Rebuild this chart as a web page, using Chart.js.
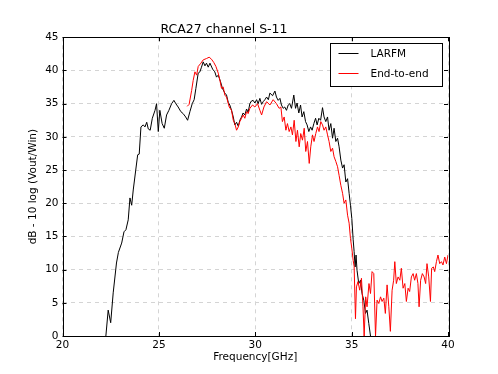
<!DOCTYPE html>
<html>
<head>
<meta charset="utf-8">
<script src="https://cdn.jsdelivr.net/npm/chart.js@4/dist/chart.umd.min.js"></script>
<style>
  html, body { margin: 0; padding: 0; background: #fff; }
</style>
</head>
<body>
<canvas id="chart" width="498" height="374"></canvas>
<script>
const larfmFreq = [22.25, 22.37, 22.5, 22.63, 22.8, 22.9, 23.07, 23.19, 23.29, 23.41, 23.5, 23.59, 23.67, 23.8, 23.9, 23.98,
  24.07, 24.19, 24.28, 24.37, 24.45, 24.55, 24.66, 24.8, 24.88, 24.97, 25.05, 25.17, 25.28, 25.4, 25.52, 25.66, 25.78, 25.88,
  26.0, 26.14, 26.26, 26.39, 26.49, 26.61, 26.73, 26.83, 26.92, 27.04, 27.13, 27.21, 27.3, 27.39, 27.47, 27.56, 27.65, 27.79,
  27.9, 27.99, 28.08, 28.2, 28.3, 28.42, 28.51, 28.6, 28.68, 28.77, 28.86, 28.94, 29.03, 29.12, 29.2, 29.29, 29.37, 29.46,
  29.55, 29.63, 29.72, 29.8, 29.89, 29.98, 30.07, 30.15, 30.24, 30.33, 30.41, 30.5, 30.59, 30.68, 30.76, 30.9, 31.02, 31.1,
  31.19, 31.28, 31.36, 31.45, 31.53, 31.62, 31.71, 31.79, 31.88, 32.0, 32.09, 32.17, 32.26, 32.35, 32.43, 32.52, 32.61, 32.69,
  32.78, 32.87, 32.95, 33.04, 33.13, 33.21, 33.3, 33.39, 33.49, 33.57, 33.66, 33.75, 33.83, 33.92, 34.01, 34.09, 34.18, 34.27,
  34.35, 34.44, 34.53, 34.61, 34.7, 34.79, 34.87, 34.94, 35.01, 35.08, 35.13, 35.18, 35.23, 35.28, 35.37, 35.46, 35.54, 35.63,
  35.72, 35.8, 35.89, 35.98];
const larfmDb = [0, 3.9, 2.0, 6.5, 11.0, 12.6, 14.0, 15.7, 16.0, 17.5, 20.8, 19.7, 22.0, 25.0, 27.3, 27.4,
  31.5, 31.8, 31.5, 32.2, 31.2, 31.0, 32.8, 34.0, 35.0, 30.8, 34.0, 32.0, 31.3, 33.3, 34.0, 35.0, 35.5, 35.0,
  34.5, 33.8, 33.5, 33.0, 32.5, 33.8, 35.0, 35.6, 37.3, 39.6, 39.8, 40.5, 41.3, 40.7, 41.1, 40.5, 41.1, 40.2,
  39.8, 39.0, 39.3, 38.3, 37.3, 36.6, 36.3, 35.2, 34.8, 34.0, 33.0, 31.8, 32.2, 31.6, 32.5, 33.0, 33.6, 33.3,
  34.2, 33.7, 35.0, 35.4, 35.5, 35.1, 35.6, 35.0, 35.8, 34.9, 35.3, 35.6, 36.0, 35.6, 36.6, 36.2, 36.9, 36.0,
  35.5, 35.8, 34.8, 34.3, 34.5, 34.0, 34.8, 35.0, 34.3, 36.3, 34.3, 35.1, 33.6, 34.8, 33.0, 33.8, 32.3, 31.8,
  30.8, 31.5, 31.0, 32.0, 32.8, 31.8, 32.8, 32.5, 34.4, 33.0, 32.3, 33.0, 31.0, 32.0, 29.8, 31.3, 29.3, 29.8,
  28.5, 26.5, 25.3, 25.8, 23.2, 23.7, 21.5, 19.7, 17.7, 14.5, 12.7, 10.4, 12.2, 9.9, 7.9, 8.4, 6.4, 5.4,
  3.4, 3.9, 1.9, 0];

const e2eFreq = [26.47, 26.57, 26.7, 26.78, 26.87, 26.96, 27.04, 27.18, 27.3, 27.47, 27.61, 27.73, 27.85, 27.96, 28.08,
  28.16, 28.25, 28.34, 28.42, 28.51, 28.65, 28.77, 28.86, 28.94, 29.03, 29.12, 29.2, 29.29, 29.37, 29.46, 29.55, 29.63,
  29.72, 29.86, 29.98, 30.12, 30.24, 30.33, 30.45, 30.59, 30.76, 30.93, 31.1, 31.24, 31.33, 31.41, 31.5, 31.59, 31.67,
  31.76, 31.85, 31.93, 32.02, 32.11, 32.19, 32.28, 32.36, 32.45, 32.54, 32.62, 32.71, 32.8, 32.88, 32.97, 33.05, 33.14,
  33.23, 33.31, 33.4, 33.49, 33.57, 33.66, 33.75, 33.83, 33.92, 34.01, 34.09, 34.18, 34.27, 34.35, 34.44, 34.53, 34.61,
  34.7, 34.79, 34.87, 34.94, 35.01, 35.08, 35.13, 35.2, 35.25, 35.33, 35.42, 35.51, 35.59, 35.65, 35.73, 35.8, 35.9,
  35.98, 36.06, 36.15, 36.24, 36.32, 36.41, 36.5, 36.58, 36.67, 36.75, 36.84, 36.93, 37.01, 37.1, 37.18, 37.24, 37.32,
  37.41, 37.5, 37.58, 37.67, 37.76, 37.84, 37.93, 38.01, 38.1, 38.19, 38.27, 38.36, 38.44, 38.5, 38.58, 38.67, 38.76,
  38.84, 38.91, 39.0, 39.09, 39.15, 39.24, 39.31, 39.4, 39.48, 39.57, 39.66, 39.74, 39.83, 39.92, 40.0];
const e2eDb = [34.6, 34.9, 37.0, 38.5, 39.8, 39.3, 40.6, 41.1, 41.6, 41.8, 42.0, 41.7, 41.2, 40.6, 39.6,
  38.6, 37.3, 37.5, 36.3, 36.0, 34.5, 34.0, 32.5, 32.0, 31.0, 31.5, 32.3, 32.8, 33.3, 32.8, 33.8, 33.5,
  34.3, 34.8, 34.5, 35.0, 34.0, 33.3, 34.5, 35.3, 34.8, 35.6, 35.0, 34.3, 34.5, 32.3, 33.0, 31.0, 32.0,
  30.8, 31.5, 30.3, 32.5, 29.3, 31.0, 28.5, 30.5, 29.5, 31.3, 27.8, 29.3, 26.0, 28.5, 30.3, 29.3, 30.5,
  31.5, 30.8, 32.3, 31.8, 31.0, 31.5, 30.3, 29.3, 27.8, 28.3, 27.0, 26.3, 25.5, 24.2, 22.7, 21.5, 20.0,
  20.5, 18.2, 17.0, 14.7, 13.2, 11.4, 10.5, 2.6, 7.4, 8.2, 6.9, 8.7, 4.4, 0, 5.9, 4.4, 7.9,
  6.4, 9.7, 9.4, 0, 5.4, 4.9, 5.9, 5.2, 5.7, 3.4, 7.7, 4.4, 0.7, 6.9, 8.4, 11.2, 7.9,
  8.9, 8.4, 10.2, 7.2, 7.9, 5.2, 7.2, 6.7, 8.9, 9.4, 8.4, 9.4, 7.9, 4.4, 8.4, 9.4, 8.9,
  7.9, 10.9, 8.9, 5.2, 10.2, 10.4, 9.7, 11.2, 12.2, 10.9, 11.2, 10.7, 11.9, 10.9, 12.2];

const seriesLabels = ["LARFM", "End-to-end"];
const seriesColors = ["#000000", "#ff0000"];
const xTicks = [20, 25, 30, 35, 40];
const yTicks = [0, 5, 10, 15, 20, 25, 30, 35, 40, 45];

const toPoints = (xs, ys) => xs.map((x, i) => ({ x: x, y: ys[i] }));

const FONT = "'DejaVu Sans', sans-serif";

// matplotlib look: full black frame, inward ticks on all sides, boxed legend
const mplFrame = {
  id: "mplFrame",
  afterDraw(chart) {
    const { ctx, chartArea: a, scales } = chart;
    ctx.save();
    ctx.strokeStyle = "#000";
    ctx.lineWidth = 1;
    const seg = (x1, y1, x2, y2) => {
      ctx.beginPath();
      ctx.moveTo(x1, y1);
      ctx.lineTo(x2, y2);
      ctx.stroke();
    };
    xTicks.forEach((v) => {
      const px = Math.round(scales.x.getPixelForValue(v)) + 0.5;
      seg(px, a.bottom, px, a.bottom - 4);
      seg(px, a.top, px, a.top + 4);
    });
    yTicks.forEach((v) => {
      const py = Math.round(scales.y.getPixelForValue(v)) + 0.5;
      seg(a.left, py, a.left + 4, py);
      seg(a.right, py, a.right - 4, py);
    });
    ctx.strokeRect(Math.round(a.left) + 0.5, Math.round(a.top) + 0.5,
      Math.round(a.right - a.left), Math.round(a.bottom - a.top));

    // legend box
    const bw = 112, bh = 43;
    const bx = Math.round(a.right - 6 - bw) + 0.5;
    const by = Math.round(a.top + 6) + 0.5;
    ctx.fillStyle = "#fff";
    ctx.fillRect(bx, by, bw, bh);
    ctx.strokeRect(bx, by, bw, bh);
    ctx.font = "10.5px " + FONT;
    ctx.textBaseline = "middle";
    seriesLabels.forEach((label, i) => {
      const ly = by + 10 + i * 20;
      ctx.strokeStyle = seriesColors[i];
      seg(bx + 8, ly, bx + 28, ly);
      ctx.fillStyle = "#000";
      ctx.fillText(label, bx + 40, ly + 0.5);
    });
    ctx.restore();
  },
};

new Chart(document.getElementById("chart"), {
  type: "line",
  data: {
    datasets: [
      {
        label: seriesLabels[0],
        data: toPoints(larfmFreq, larfmDb),
        borderColor: seriesColors[0],
        borderWidth: 1,
        pointRadius: 0,
        fill: false,
        tension: 0,
        order: 1,
      },
      {
        label: seriesLabels[1],
        data: toPoints(e2eFreq, e2eDb),
        borderColor: seriesColors[1],
        borderWidth: 1,
        pointRadius: 0,
        fill: false,
        tension: 0,
        order: 0,
      },
    ],
  },
  options: {
    responsive: false,
    animation: false,
    layout: { padding: { left: 0, right: 50, top: 0, bottom: 0 } },
    plugins: {
      legend: { display: false },
      tooltip: { enabled: false },
      title: {
        display: true,
        text: "RCA27 channel S-11",
        color: "#000",
        font: { family: FONT, size: 12.5, weight: "normal" },
        padding: { top: 22.3, bottom: 0 },
      },
    },
    scales: {
      x: {
        type: "linear",
        min: 20,
        max: 40,
        afterBuildTicks: (s) => { s.ticks = xTicks.map((v) => ({ value: v })); },
        afterFit: (s) => { s.height = 38; },
        ticks: { color: "#000", padding: 3, font: { family: FONT, size: 10.5 } },
        grid: { color: "#d4d4d4", drawTicks: false },
        border: { display: false, dash: [4, 4] },
        title: {
          display: true,
          text: "Frequency[GHz]",
          color: "#000",
          font: { family: FONT, size: 10.5 },
          padding: { top: 0, bottom: 10 },
        },
      },
      y: {
        type: "linear",
        min: 0,
        max: 45,
        afterBuildTicks: (s) => { s.ticks = yTicks.map((v) => ({ value: v })); },
        afterFit: (s) => { s.width = 62.5; },
        ticks: { color: "#000", padding: 4, font: { family: FONT, size: 10.5 } },
        grid: { color: "#d4d4d4", drawTicks: false },
        border: { display: false, dash: [4, 4] },
        title: {
          display: true,
          text: "dB - 10 log (Vout/Win)",
          color: "#000",
          font: { family: FONT, size: 10.5 },
          padding: { top: 27, bottom: 0 },
        },
      },
    },
  },
  plugins: [mplFrame],
});
</script>
</body>
</html>
